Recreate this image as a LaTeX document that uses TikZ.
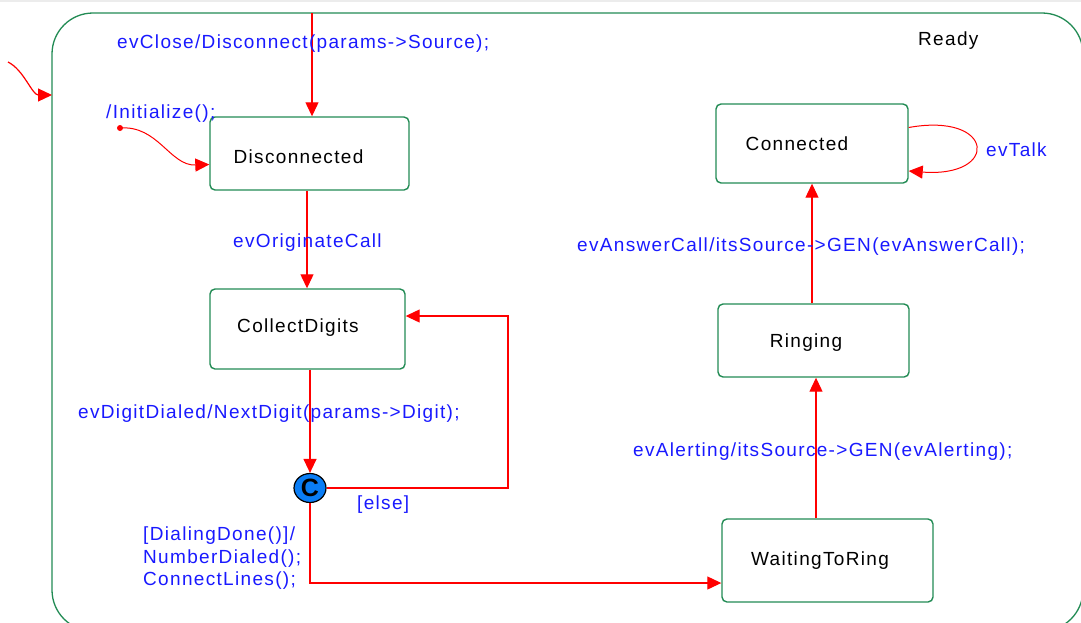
\documentclass[tikz,border=0pt]{standalone}
\usepackage{fontspec}
\setmainfont{Liberation Sans}[LetterSpace=7]
\usetikzlibrary{arrows.meta,shapes.geometric}
\definecolor{sgreen}{RGB}{34,139,84}
\definecolor{lblue}{RGB}{25,25,255}
\definecolor{cblue}{RGB}{10,125,245}
\begin{document}
\begin{tikzpicture}[x=1pt,y=-1pt,
  every node/.style={font=\fontsize{19}{22.5}\selectfont},
  statebox/.style={draw=sgreen, line width=1.4pt, rounded corners=5pt, inner sep=0pt, text=black},
  lbl/.style={text=lblue, inner sep=0pt, anchor=west},
  conn/.style={draw=red, line width=1.2pt, -{Triangle[length=14pt,width=13pt]}}]
\useasboundingbox (0,0) rectangle (1081,622);
\clip (0,0) rectangle (1081,622);
\draw[gray!15, line width=1.5pt] (0,0.8) -- (1081,0.8);
% Ready super-state
\draw[sgreen, line width=1.3pt, rounded corners=41pt] (52,13) rectangle (1083,631);
\node[inner sep=0pt, anchor=west] (readylbl) at (918,41) {Ready};
% states
\node[statebox, minimum width=199pt, minimum height=73pt,
      label={[inner sep=0pt, xshift=-11pt, yshift=-3.5pt]center:Disconnected}] (disc) at (309.5,153.5) {};
\node[statebox, minimum width=195pt, minimum height=80pt,
      label={[inner sep=0pt, xshift=-9.5pt, yshift=1pt]center:CollectDigits}] (coll) at (307.5,329) {};
\node[statebox, minimum width=192pt, minimum height=79pt,
      label={[inner sep=0pt, xshift=-15pt]center:Connected}] (conn) at (812,143.5) {};
\node[statebox, minimum width=191pt, minimum height=73pt,
      label={[inner sep=0pt, xshift=-7.5pt, yshift=-2.5pt]center:Ringing}] (ring) at (813.5,340.5) {};
\node[statebox, minimum width=211pt, minimum height=83pt,
      label={[inner sep=0pt, xshift=-7.5pt, yshift=-0.5pt]center:WaitingToRing}] (wait) at (827.5,560.5) {};
\node[ellipse, draw=black, fill=cblue, minimum width=32pt, minimum height=29pt, inner sep=0pt, line width=1.2pt,
      font=\fontsize{25}{25}\selectfont\bfseries] (cc) at (310,488) {C};
% outer initial transition
\coordinate (outerstart) at (8,62);
\coordinate (outerend) at (52,95);
\draw[conn] (outerstart) .. controls (24,70) and (32,95) .. (outerend);
% top transition
\coordinate (topin) at (312,13);
\draw[conn] (topin) -- (topin |- disc.north);
\node[lbl] (lclose) at (117,44) {evClose/Disconnect(params->Source);};
% default transition
\coordinate (idot) at (120,128);
\fill[red] (idot) circle (3pt);
\draw[conn, line width=1pt] (idot) .. controls (158,125) and (170,166) .. ([yshift=-11pt]disc.west);
\node[lbl] (linit) at (106,114) {/Initialize();};
% Disconnected -> CollectDigits
\draw[conn] ([xshift=-2.5pt]disc.south) -- ([xshift=-2.5pt]disc.south |- coll.north);
\node[lbl] (lorig) at (233,243) {evOriginateCall};
% CollectDigits -> C
\draw[conn] (cc.north |- coll.south) -- (cc.north);
\node[lbl] (ldigit) at (78,414) {evDigitDialed/NextDigit(params->Digit);};
% else loop
\coordinate (elsecorner) at (508,316);
\draw[conn] (cc.east) -| (elsecorner) -- (elsecorner -| coll.east);
\node[lbl] (lelse) at (357,505) {[else]};
% C -> WaitingToRing
\coordinate (dcorner) at (310,583);
\draw[conn] (cc.south) -- (dcorner) -- (dcorner -| wait.west);
\node[lbl, anchor=north west, align=left] (ldone) at (143,527) {[DialingDone()]/\\NumberDialed();\\ConnectLines();};
% WaitingToRing -> Ringing
\draw[conn] ([xshift=-11.5pt]wait.north) -- ([xshift=-11.5pt]wait.north |- ring.south);
\node[lbl] (lalert) at (633,452) {evAlerting/itsSource->GEN(evAlerting);};
% Ringing -> Connected
\draw[conn] (ring.north -| conn.south) -- (conn.south);
\node[lbl] (lanswer) at (577,247) {evAnswerCall/itsSource->GEN(evAnswerCall);};
% self loop
\draw[conn, line width=1pt] ([yshift=16pt]conn.east) .. controls (995,112) and (1000,178) .. ([yshift=-27.5pt]conn.east);
\node[lbl] (ltalk) at (986,150) {evTalk};
\end{tikzpicture}
\end{document}
